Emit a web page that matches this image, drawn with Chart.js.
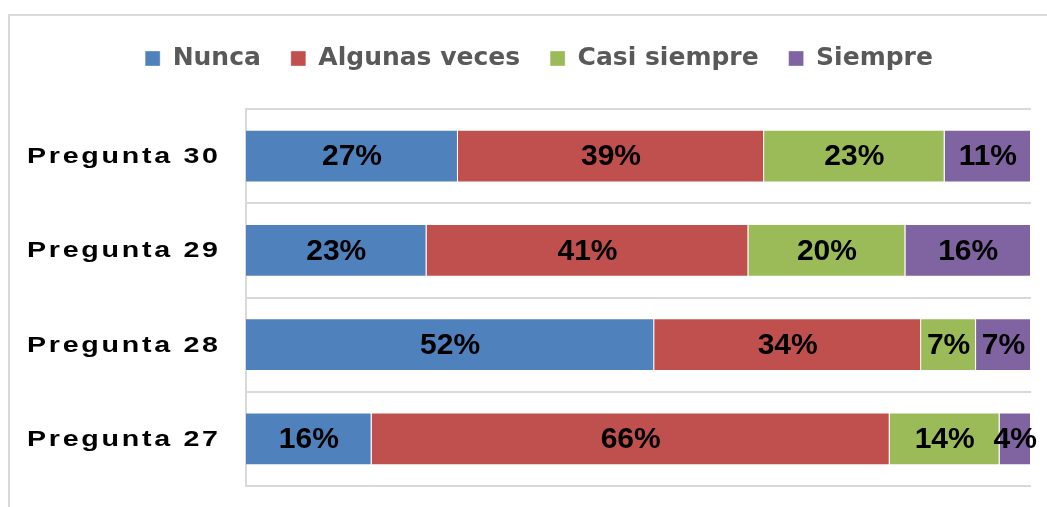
<!DOCTYPE html>
<html>
<head>
<meta charset="utf-8">
<script src="https://cdn.jsdelivr.net/npm/chart.js@4/dist/chart.umd.min.js"></script>
<style>
    html, body { margin: 0; padding: 0; background: #fff; }
    #wrap { position: relative; width: 1047px; height: 507px; }
    #frame {
        position: absolute; left: 8px; top: 14px; right: 0; bottom: 0;
        border-top: 2px solid #d9d9d9; border-left: 2px solid #d9d9d9;
    }
    canvas { position: absolute; left: 0; top: 0; }
</style>
</head>
<body>
<div id="wrap">
    <div id="frame"></div>
    <canvas id="survey-chart" width="1047" height="507"></canvas>
</div>
<script>
const categories = ['Pregunta 30', 'Pregunta 29', 'Pregunta 28', 'Pregunta 27'];
const seriesNames = ['Nunca', 'Algunas veces', 'Casi siempre', 'Siempre'];
const nunca = [27, 23, 52, 16];
const algunasVeces = [39, 41, 34, 66];
const casiSiempre = [23, 20, 7, 14];
const siempre = [11, 16, 7, 4];
const seriesColors = ['#4F81BD', '#C0504D', '#9BBB59', '#8064A2'];

(function () {
    const ctx = document.getElementById('survey-chart');
    const values = [nunca, algunasVeces, casiSiempre, siempre];

    // percentage labels centred in each segment
    const segmentLabels = {
        id: 'segmentLabels',
        afterDatasetsDraw(chart) {
            const c = chart.ctx;
            c.save();
            c.font = 'bold 30px "Liberation Sans", Arial, sans-serif';
            c.fillStyle = '#000';
            c.textAlign = 'center';
            c.textBaseline = 'middle';
            chart.data.datasets.forEach(function (ds, i) {
                chart.getDatasetMeta(i).data.forEach(function (bar, j) {
                    c.fillText(ds.data[j] + '%', (bar.x + bar.base) / 2, bar.y + 1);
                });
            });
            c.restore();
        }
    };

    // category names, widened and letter spaced (not possible via ticks)
    const spacedCategoryLabels = {
        id: 'spacedCategoryLabels',
        afterDraw(chart) {
            const c = chart.ctx;
            const y = chart.scales.y;
            categories.forEach(function (label, i) {
                c.save();
                c.translate(27, y.getPixelForValue(i) + 1);
                c.scale(1.3, 1);
                c.font = 'bold 22px "Liberation Sans", Arial, sans-serif';
                c.letterSpacing = '2.1px';
                c.fillStyle = '#000';
                c.textAlign = 'left';
                c.textBaseline = 'middle';
                c.fillText(label, 0, 0);
                c.restore();
            });
        }
    };

    const chart = new Chart(ctx, {
        type: 'bar',
        data: {
            labels: categories,
            datasets: seriesNames.map(function (name, i) {
                return {
                    label: name,
                    data: values[i],
                    backgroundColor: seriesColors[i],
                    borderColor: 'rgba(255, 255, 255, 0.35)',
                    borderWidth: 1,
                    barPercentage: 0.56,
                    categoryPercentage: 1.0,
                };
            }),
        },
        options: {
            indexAxis: 'y',
            responsive: false,
            animation: false,
            layout: {
                padding: {left: 47, right: 16, top: 16, bottom: 21},
            },
            scales: {
                x: {
                    stacked: true,
                    min: 0,
                    max: 100,
                    position: 'top',
                    ticks: {display: false},
                    grid: {display: false},
                    border: {display: false},
                    afterFit(scale) {
                        scale.height = 28; // gap between legend and plot
                    },
                },
                y: {
                    stacked: true,
                    ticks: {display: false},
                    grid: {
                        color: '#d9d9d9',
                        lineWidth: 2,
                        drawTicks: false,
                    },
                    border: {color: '#d9d9d9', width: 2},
                    afterFit(scale) {
                        scale.width = 199;
                    },
                },
            },
            plugins: {
                legend: {
                    position: 'top',
                    labels: {
                        boxWidth: 15,
                        boxHeight: 15,
                        padding: 30,
                        color: '#595959',
                        font: {family: '"DejaVu Sans", sans-serif', size: 25, weight: 'bold'},
                    },
                },
                tooltip: {enabled: false},
            },
        },
        plugins: [segmentLabels, spacedCategoryLabels],
    });

    window.chart = chart;
})();
</script>
</body>
</html>
